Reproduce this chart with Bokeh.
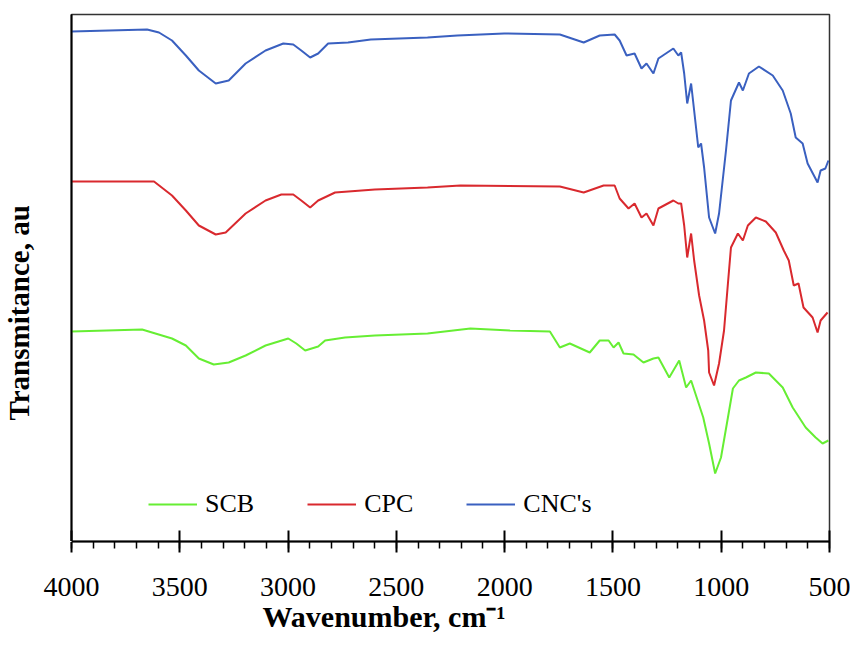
from bokeh.plotting import figure
from bokeh.models import Range1d, SingleIntervalTicker, FixedTicker, Legend, Title
from bokeh.embed import file_html
from bokeh.resources import INLINE

# ---------------- data ----------------
wn_cnc = [4000, 3651, 3596, 3536, 3472, 3412, 3334, 3274, 3196, 3104,
          3022, 2976, 2939, 2898, 2861, 2815, 2723, 2618, 2356, 2218,
          2002, 1745, 1635, 1561, 1492, 1469, 1437, 1400, 1368, 1345,
          1313, 1290, 1221, 1198, 1185, 1171, 1157, 1139, 1125, 1106,
          1093, 1079, 1056, 1028, 1010, 978, 955, 918, 900, 872,
          826, 762, 716, 679, 656, 624, 601, 555, 541, 519, 505]
t_cnc = [510, 512, 509, 501, 486, 471, 458, 461, 478, 491,
         498, 497, 491, 484, 488, 498, 499, 502, 504, 506,
         508, 507, 499, 506, 507, 501, 486, 488, 473, 478,
         468, 483, 493, 486, 489, 468, 438, 458, 431, 394,
         398, 374, 324, 308, 328, 391, 441, 459, 451, 468,
         475, 466, 451, 428, 404, 398, 378, 359, 371, 373, 381]

wn_cpc = [4000, 3619, 3536, 3472, 3412, 3334, 3288, 3196, 3104, 3031,
          2976, 2939, 2898, 2861, 2783, 2599, 2356, 2204, 1745, 1635,
          1543, 1492, 1469, 1428, 1400, 1368, 1345, 1313, 1290, 1221,
          1198, 1185, 1171, 1157, 1139, 1125, 1102, 1079, 1060, 1056,
          1033, 1010, 987, 969, 955, 923, 900, 877, 840, 794,
          748, 711, 688, 665, 643, 620, 578, 555, 541, 509]
t_cpc = [360, 360, 346, 331, 316, 307, 309, 328, 341, 347,
         347, 341, 334, 341, 349, 352, 354, 356, 355, 349,
         356, 356, 343, 333, 338, 324, 328, 316, 333, 341,
         338, 338, 316, 284, 308, 281, 246, 221, 191, 169,
         156, 178, 211, 258, 294, 308, 301, 316, 324, 320,
         309, 291, 281, 256, 258, 234, 224, 209, 221, 229]

wn_scb = [4000, 3674, 3628, 3536, 3472, 3412, 3343, 3274, 3196, 3104,
          2999, 2962, 2921, 2861, 2829, 2737, 2599, 2356, 2158, 1975,
          1791, 1745, 1699, 1607, 1561, 1520, 1497, 1474, 1451, 1405,
          1359, 1313, 1290, 1240, 1194, 1162, 1139, 1083, 1056, 1028,
          1001, 969, 946, 918, 886, 840, 780, 716, 670, 610,
          564, 532, 505]
t_scb = [210, 212, 209, 203, 196, 183, 177, 179, 186, 196,
         203, 198, 191, 195, 201, 204, 206, 208, 213, 211,
         210, 194, 198, 189, 201, 201, 194, 199, 188, 187,
         179, 183, 184, 164, 181, 154, 161, 124, 98, 68,
         84, 124, 153, 161, 164, 169, 168, 154, 134, 114,
         104, 98, 101]

series_names = ["SCB", "CPC", "CNC's"]
x_start, x_end, x_step = 4000, 500, 500
y_min, y_max = 0, 527
x_title = "Wavenumber, cm\u207b\u00b9"
y_title = "Transmitance, au"

GREEN = "#66EE33"
RED = "#D9292E"
BLUE = "#3A60C0"
SERIF = "Liberation Serif"

# ---------------- figure ----------------
p = figure(width=850, height=632,
           x_range=Range1d(x_start, x_end), y_range=Range1d(y_min, y_max),
           output_backend="svg", toolbar_location=None,
           min_border_left=71, min_border_right=21,
           min_border_top=14, min_border_bottom=91)

p.xgrid.visible = False
p.ygrid.visible = False
p.background_fill_color = "white"
p.border_fill_color = "white"
p.outline_line_color = "#333333"
p.outline_line_width = 1.5

xa = p.xaxis[0]
xa.ticker = SingleIntervalTicker(interval=x_step, num_minor_ticks=5)
xa.axis_line_color = "black"
xa.axis_line_width = 2
xa.major_tick_line_color = "black"
xa.major_tick_line_width = 2
xa.major_tick_in = 11
xa.major_tick_out = 11
xa.minor_tick_line_color = "black"
xa.minor_tick_line_width = 1.5
xa.minor_tick_in = 0
xa.minor_tick_out = 7
xa.major_label_text_font = SERIF
xa.major_label_text_font_size = "28px"
xa.major_label_text_color = "black"
xa.major_label_standoff = 25

# the y axis carries no visible ticks or labels (arbitrary units);
# a single white, unlabelled tick at the baseline reserves room so the
# rotated title sits at the far left as in the original
ya = p.yaxis[0]
ya.ticker = FixedTicker(ticks=[y_min])
ya.major_label_overrides = {y_min: ""}
ya.major_label_standoff = 0
ya.axis_line_color = "black"
ya.axis_line_width = 2
ya.major_tick_line_color = "white"
ya.major_tick_line_width = 1
ya.major_tick_in = 0
ya.major_tick_out = 38
ya.minor_tick_in = 0
ya.minor_tick_out = 0
ya.minor_tick_line_color = None

r_scb = p.line(wn_scb, t_scb, line_color=GREEN, line_width=2)
r_cpc = p.line(wn_cpc, t_cpc, line_color=RED, line_width=2)
r_cnc = p.line(wn_cnc, t_cnc, line_color=BLUE, line_width=2)

legend = Legend(items=[(series_names[0], [r_scb]),
                       (series_names[1], [r_cpc]),
                       (series_names[2], [r_cnc])],
                orientation="horizontal", location=(77, 22),
                padding=0, margin=0, spacing=53,
                glyph_width=49, label_standoff=8,
                label_text_font=SERIF, label_text_font_size="26px",
                label_text_color="black",
                background_fill_alpha=0, border_line_color=None)
p.add_layout(legend)

# axis titles as side panels (real text)
p.add_layout(Title(text=x_title, align="left", offset=191, standoff=-2,
                   text_font=SERIF, text_font_style="bold",
                   text_font_size="30px", text_color="black"), "below")
p.add_layout(Title(text=y_title, align="left", offset=121, standoff=-2,
                   text_font=SERIF, text_font_style="bold",
                   text_font_size="29px", text_color="black"), "left")

open("out.html", "w").write(file_html(p, INLINE))
